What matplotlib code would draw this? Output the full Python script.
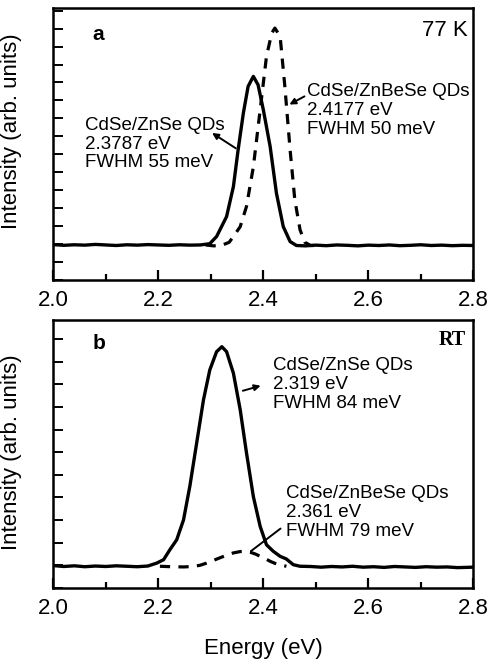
# Photoluminescence spectra of CdSe QDs (77 K and RT), two stacked panels.
import matplotlib
matplotlib.use('Agg')
import matplotlib.pyplot as plt
from matplotlib.ticker import MultipleLocator

plt.rcParams['font.family'] = ['Liberation Sans', 'DejaVu Sans']

# ---- panel a (77 K) ----
energia_a_znse = [2.00, 2.02, 2.04, 2.06, 2.08, 2.10, 2.12, 2.14, 2.16, 2.18, 2.20, 2.22, 2.24,
                  2.26, 2.28, 2.298, 2.311, 2.330, 2.343, 2.352, 2.362, 2.371, 2.381, 2.390,
                  2.400, 2.413, 2.425, 2.438, 2.451, 2.463, 2.48, 2.50, 2.52, 2.54, 2.56, 2.58,
                  2.60, 2.62, 2.64, 2.66, 2.68, 2.70, 2.72, 2.74, 2.76, 2.78, 2.80]
pl_a_znse = [1.97, 1.93, 1.96, 1.94, 1.98, 1.95, 1.92, 1.96, 1.94, 1.97, 1.95, 1.93, 1.96,
             1.94, 1.95, 2.02, 2.42, 3.53, 5.20, 7.25, 9.30, 10.78, 11.34, 10.87,
             9.48, 7.43, 4.83, 2.97, 2.14, 1.92, 1.90, 1.94, 1.91, 1.95, 1.93, 1.90,
             1.94, 1.92, 1.95, 1.91, 1.93, 1.96, 1.92, 1.94, 1.91, 1.93, 1.92]

energia_a_znbese = [2.29, 2.305, 2.320, 2.335, 2.343, 2.356, 2.368, 2.381, 2.394, 2.406, 2.416,
                    2.422, 2.432, 2.441, 2.451, 2.460, 2.470, 2.479, 2.490, 2.50]
pl_a_znbese = [1.95, 1.90, 1.92, 2.10, 2.42, 2.97, 4.10, 6.30, 9.48, 12.45, 13.75,
               14.03, 13.57, 10.78, 7.25, 4.46, 2.79, 2.10, 1.92, 1.92]

# ---- panel b (RT) ----
energia_b_znse = [2.00, 2.02, 2.04, 2.06, 2.08, 2.10, 2.12, 2.14, 2.16, 2.18, 2.197, 2.210,
                  2.222, 2.235, 2.248, 2.260, 2.273, 2.286, 2.298, 2.311, 2.321, 2.330, 2.343,
                  2.356, 2.368, 2.381, 2.394, 2.406, 2.419, 2.432, 2.444, 2.457, 2.470, 2.49,
                  2.51, 2.53, 2.55, 2.57, 2.59, 2.61, 2.63, 2.65, 2.67, 2.69, 2.71, 2.73, 2.75,
                  2.77, 2.80]
pl_b_znse = [0.99, 0.95, 0.98, 0.94, 0.97, 0.95, 0.98, 0.96, 0.94, 0.97, 1.10, 1.25,
             1.69, 2.13, 3.01, 4.49, 6.40, 8.31, 9.63, 10.44, 10.66, 10.44, 9.49,
             7.87, 5.96, 4.04, 2.72, 1.91, 1.62, 1.40, 1.28, 1.03, 0.96, 0.95,
             0.92, 0.95, 0.93, 0.96, 0.92, 0.94, 0.91, 0.95, 0.93, 0.91, 0.94, 0.92, 0.93,
             0.90, 0.92]

energia_b_znbese = [2.203, 2.225, 2.248, 2.265, 2.279, 2.292, 2.305, 2.318, 2.330, 2.343,
                    2.356, 2.366, 2.375, 2.385, 2.394, 2.404, 2.413, 2.422, 2.432, 2.444]
pl_b_znbese = [0.96, 0.94, 0.93, 0.95, 1.00, 1.10, 1.22, 1.34, 1.45, 1.55,
               1.61, 1.62, 1.58, 1.50, 1.40, 1.29, 1.18, 1.09, 1.02, 0.96]

fig = plt.figure(figsize=(4.91, 6.65), dpi=100)
ax_a = fig.add_axes([0.1086, 0.579, 0.8554, 0.409])
ax_b = fig.add_axes([0.1086, 0.1158, 0.8554, 0.403])

for ax in (ax_a, ax_b):
    ax.set_xlim(2.0, 2.8)
    ax.xaxis.set_major_locator(MultipleLocator(0.2))
    ax.xaxis.set_minor_locator(MultipleLocator(0.1))
    ax.yaxis.set_major_locator(MultipleLocator(1))
    ax.yaxis.set_major_formatter(plt.NullFormatter())
    ax.tick_params(axis='x', which='major', direction='in', length=7, width=1.6,
                   labelsize=16, pad=7, top=False)
    ax.tick_params(axis='x', which='minor', direction='in', length=4, width=1.6, top=False)
    ax.tick_params(axis='y', which='major', direction='in', length=7, width=1.4, right=False)
    for s in ax.spines.values():
        s.set_linewidth(1.8)
    ax.set_ylabel('Intensity (arb. units)', fontsize=16)

ax_a.set_ylim(0, 15.15)
ax_b.set_ylim(0, 11.84)
ax_a.yaxis.set_label_coords(-0.074, 0.548)
ax_b.yaxis.set_label_coords(-0.074, 0.505)

# panel a
ax_a.plot(energia_a_znbese, pl_a_znbese, color='black', lw=2.3, ls=(0, (3.2, 2.6)))
ax_a.plot(energia_a_znse, pl_a_znse, color='black', lw=2.4)
ax_a.text(2.075, 13.66, 'a', fontsize=15, fontweight='bold', va='center')
ax_a.text(2.79, 13.9, '77 K', fontsize=16, ha='right', va='center')
ax_a.text(2.060, 9.1, 'CdSe/ZnSe QDs\n2.3787 eV\nFWHM 55 meV', fontsize=13.5,
          va='top', linespacing=1.15)
ax_a.text(2.483, 10.95, 'CdSe/ZnBeSe QDs\n2.4177 eV\nFWHM 50 meV', fontsize=13.5,
          va='top', linespacing=1.15)
ax_a.annotate('', xy=(2.298, 8.27), xytext=(2.352, 7.25),
              arrowprops=dict(arrowstyle='-|>', color='black', lw=1.4, mutation_scale=9))
ax_a.annotate('', xy=(2.445, 9.7), xytext=(2.483, 10.3),
              arrowprops=dict(arrowstyle='-|>', color='black', lw=1.4, mutation_scale=9))

# panel b
ax_b.plot(energia_b_znbese, pl_b_znbese, color='black', lw=2.3, ls=(0, (3.2, 2.6)))
ax_b.plot(energia_b_znse, pl_b_znse, color='black', lw=2.4)
ax_b.text(2.075, 10.8, 'b', fontsize=15, fontweight='bold', va='center')
ax_b.text(2.785, 10.96, 'RT', fontsize=14.5, ha='right', va='center',
          family=['Liberation Serif', 'DejaVu Serif'], fontweight='bold')
ax_b.text(2.419, 10.2, 'CdSe/ZnSe QDs\n2.319 eV\nFWHM 84 meV', fontsize=13.5,
          va='top', linespacing=1.15)
ax_b.text(2.444, 4.55, 'CdSe/ZnBeSe QDs\n2.361 eV\nFWHM 79 meV', fontsize=13.5,
          va='top', linespacing=1.15)
ax_b.annotate('', xy=(2.40, 8.97), xytext=(2.356, 8.68),
              arrowprops=dict(arrowstyle='-|>', color='black', lw=1.4, mutation_scale=9))
ax_b.annotate('', xy=(2.437, 2.7), xytext=(2.372, 1.55),
              arrowprops=dict(arrowstyle='-', color='black', lw=1.4))
ax_b.set_xlabel('Energy (eV)', fontsize=16, labelpad=14)

fig.savefig('out.png', dpi=100)
